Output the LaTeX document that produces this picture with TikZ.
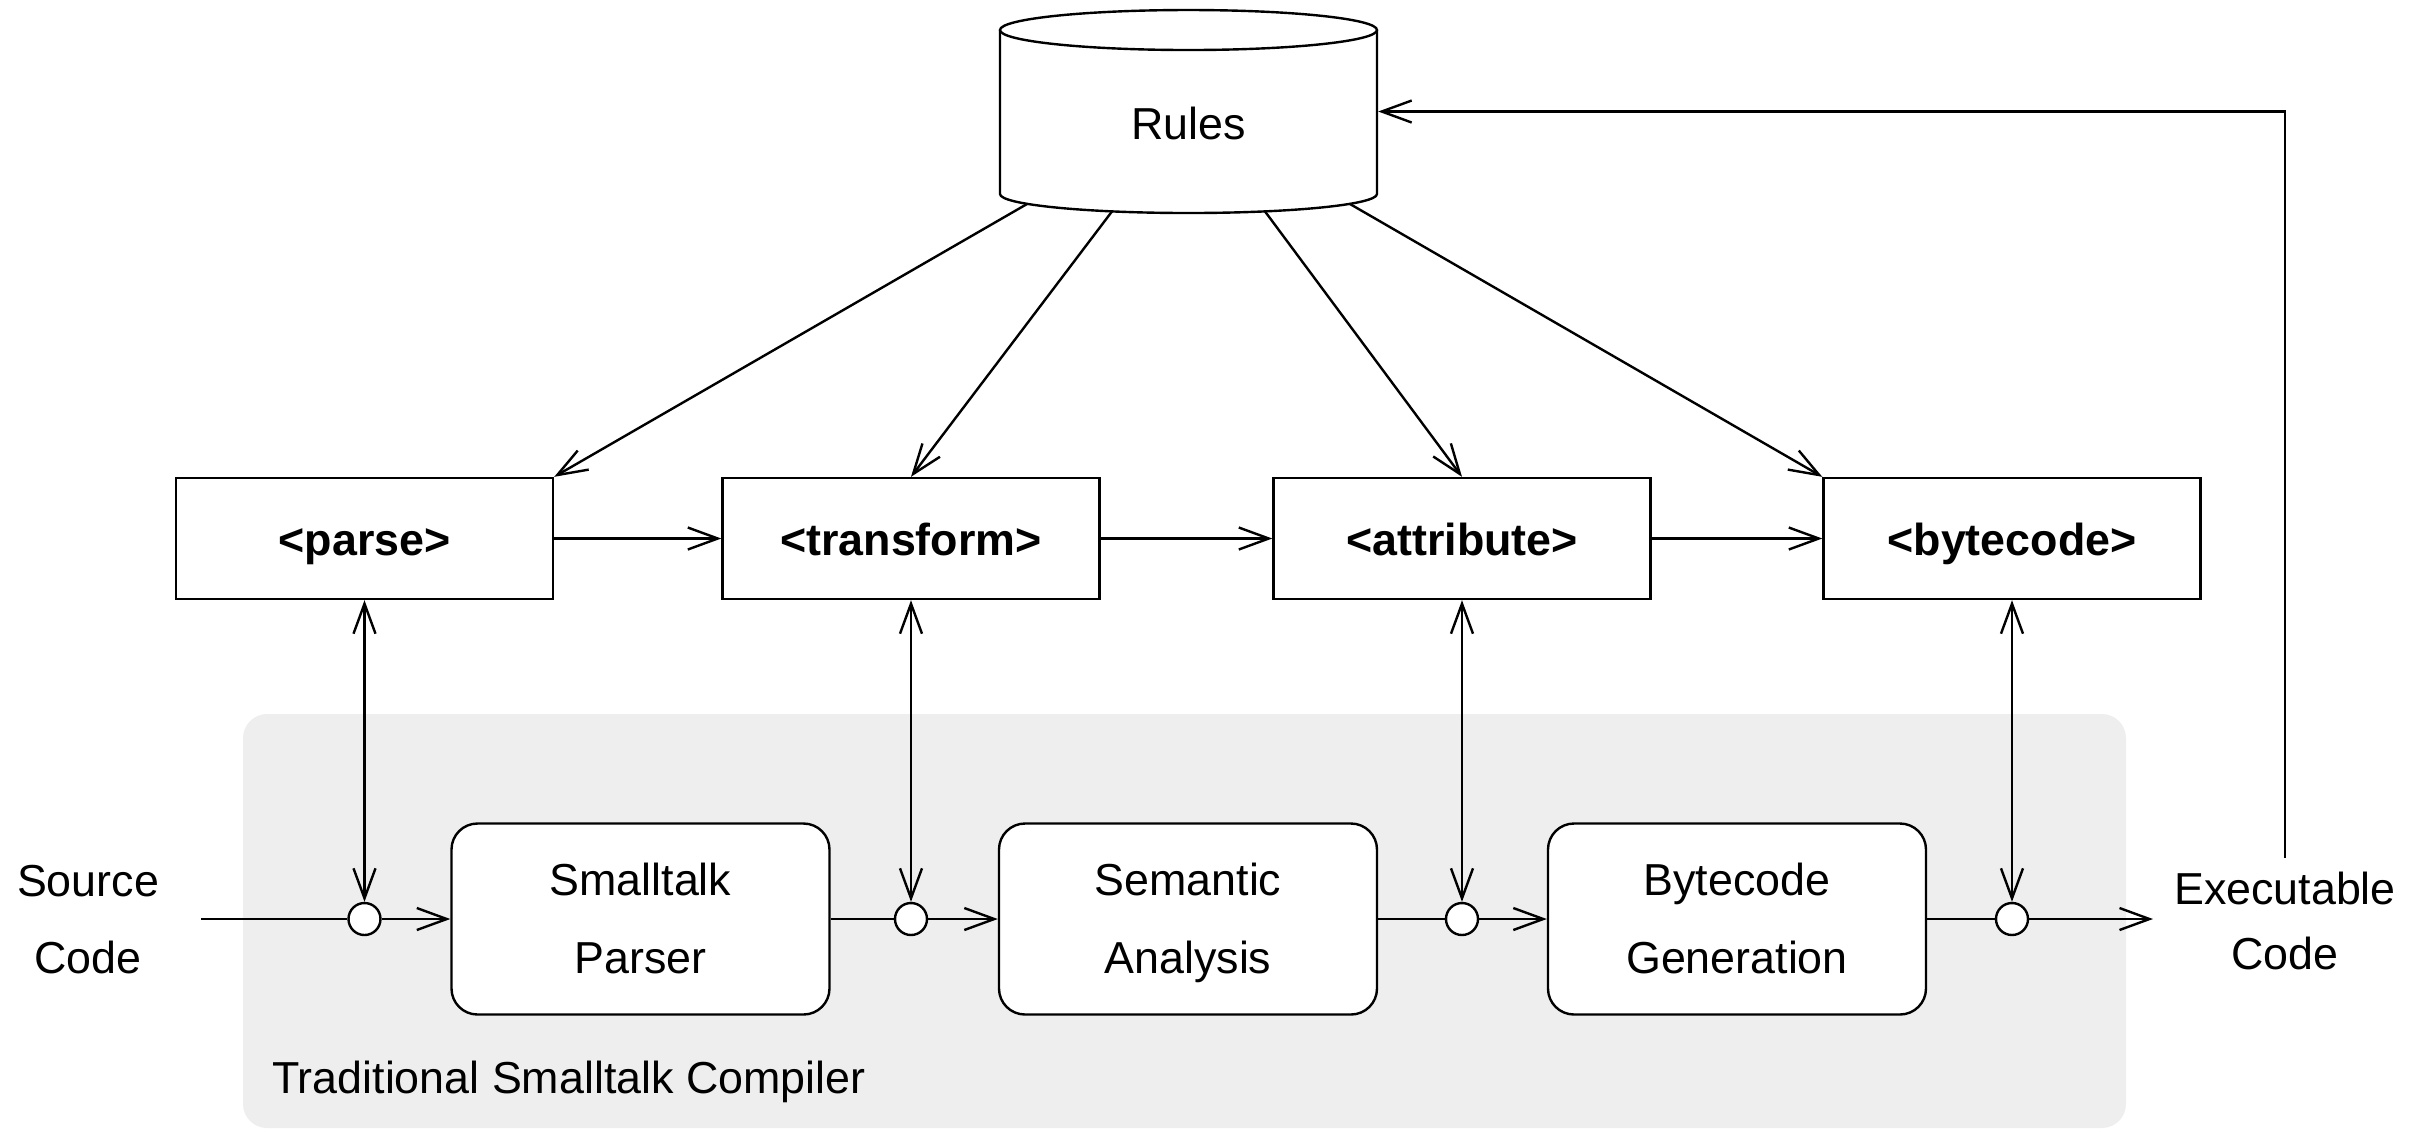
\documentclass[tikz,border=0pt]{standalone}
\usepackage{fontspec}
\setmainfont{Liberation Sans}
\usetikzlibrary{arrows.meta}
\definecolor{compilergray}{RGB}{238,238,238}
\begin{document}
\begin{tikzpicture}[x=0.25pt,y=-0.25pt,line width=0.6pt,
  >={Straight Barb[length=7.5pt,width=5.5pt]},
  basefont/.style={font=\fontsize{11.2}{13.5}\selectfont},
  topbox/.style={draw,fill=white,minimum width=94.25pt,minimum height=30.25pt,inner sep=0pt,
    text height=9.1pt,text depth=0.6pt,
    font=\fontsize{11.2}{13.5}\selectfont\bfseries},
  stage/.style={draw,fill=white,rounded corners=6.5pt,minimum width=94.5pt,minimum height=47.75pt,
    inner sep=0pt,align=center,font=\fontsize{11.2}{19.5}\selectfont},
  junction/.style={circle,draw,fill=white,minimum size=8pt,inner sep=0pt},
  endtext/.style={align=center,inner sep=0pt}]
\useasboundingbox (0,0) rectangle (2424,1129);

% compiler background
\fill[compilergray,rounded corners=6pt] (243,714) rectangle (2126,1128);
\node[basefont,anchor=west,inner sep=0pt] (compilerlabel) at (271,1082) {Traditional Smalltalk Compiler};

% Rules cylinder
\node[minimum width=94.25pt,minimum height=50.75pt,inner sep=0pt] (rules) at (1188.5,111.5) {};
\draw[fill=white] (1000,30) -- (1000,194)
  arc[start angle=180,end angle=360,x radius=47.125pt,y radius=4.75pt] -- (1377,30);
\draw[fill=white] (1188.5,30) ellipse[x radius=47.125pt,y radius=5pt];
\node[basefont] (rulestext) at (1188.5,123) {Rules};
\coordinate (r1) at (1027,204);
\coordinate (r2) at (1112,211.4);
\coordinate (r3) at (1265,211.4);
\coordinate (r4) at (1350,204);

% top boxes
\node[topbox] (parse) at (364.5,538.5) {<parse>};
\node[topbox] (transform) at (911,538.5) {<transform>};
\node[topbox] (attribute) at (1462,538.5) {<attribute>};
\node[topbox] (bytecode) at (2012,538.5) {<bytecode>};

% stages
\node[stage] (sp) at (640.5,919) {\strut Smalltalk\\\strut Parser};
\node[stage] (sa) at (1188,919) {\strut Semantic\\\strut Analysis};
\node[stage] (bg) at (1737,919) {\strut Bytecode\\\strut Generation};

% junctions
\node[junction] (c1) at (364.5,919) {};
\node[junction] (c2) at (911,919) {};
\node[junction] (c3) at (1462,919) {};
\node[junction] (c4) at (2012,919) {};

% end texts
\node[endtext,font=\fontsize{11.2}{19.25}\selectfont] (src) at (88,919.5) {Source\\Code};
\node[endtext,font=\fontsize{11.2}{16.25}\selectfont] (exec) at (2285,920.5) {Executable\\Code};
\coordinate (in) at (201,919);
\coordinate (out) at (2153,919);
\coordinate (fb) at (2285,858);

% rules to boxes
\draw[->] (r1) -- (parse.north east);
\draw[->] (r2) -- (transform.north);
\draw[->] (r3) -- (attribute.north);
\draw[->] (r4) -- (bytecode.north west);

% top chain
\draw[->] (parse) -- (transform);
\draw[->] (transform) -- (attribute);
\draw[->] (attribute) -- (bytecode);

% vertical links
\draw[<->] (parse.south) -- (c1.north);
\draw[<->] (transform.south) -- (c2.north);
\draw[<->] (attribute.south) -- (c3.north);
\draw[<->] (bytecode.south) -- (c4.north);

% pipeline
\draw (in) -- (c1);
\draw[->] (c1) -- (sp);
\draw (sp) -- (c2);
\draw[->] (c2) -- (sa);
\draw (sa) -- (c3);
\draw[->] (c3) -- (bg);
\draw (bg) -- (c4);
\draw[->] (c4) -- (out);

% feedback
\draw[->] (fb) |- (rules.east);
\end{tikzpicture}
\end{document}
